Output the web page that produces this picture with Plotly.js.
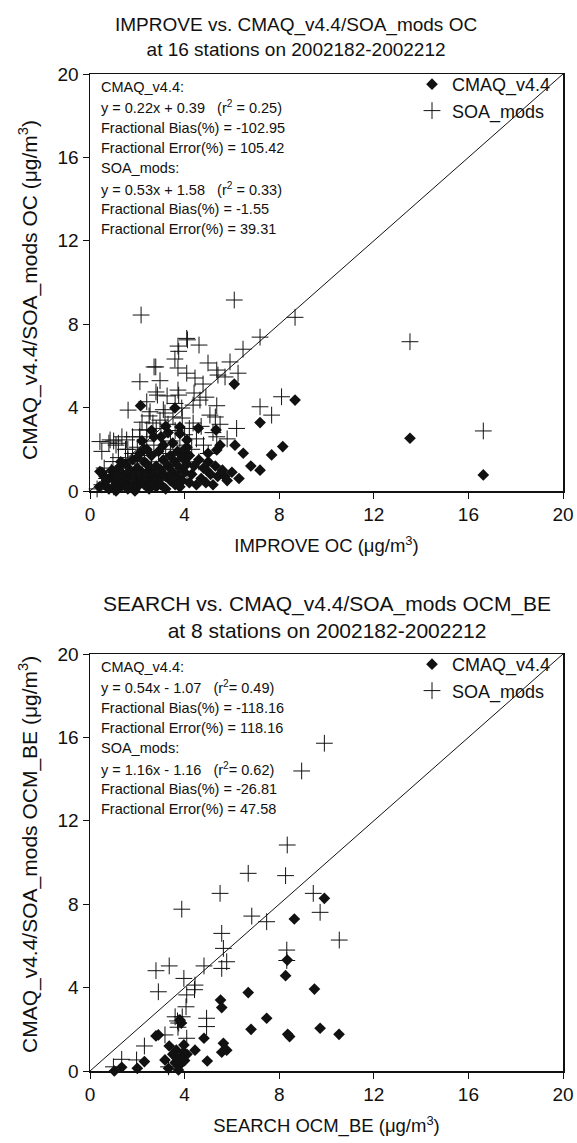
<!DOCTYPE html>
<html>
<head>
<meta charset="utf-8">
<script src="https://cdn.plot.ly/plotly-3.0.1.min.js"></script>
<style>html,body{margin:0;padding:0;background:#fff;}#chart{width:577px;height:1143px;}</style>
</head>
<body>
<div id="chart"></div>
<script>
// ---------- Top panel: IMPROVE OC ----------
var improveCmaqX = [6.10,8.67,7.19,2.14,3.59,8.15,7.68,6.48,6.13,5.50,7.19,5.33,5.36,4.99,4.58,4.93,5.40,5.70,3.80,3.80,4.10,4.10,13.53,16.63,
  0.5,0.6,0.7,0.8,0.9,1.0,1.0,1.1,1.2,1.2,1.3,1.4,1.5,1.5,1.6,1.6,1.7,1.8,1.8,1.9,2.0,2.0,2.1,2.1,2.2,2.2,2.3,2.3,2.4,2.4,2.5,2.5,2.6,2.6,2.7,2.7,
  2.8,2.8,2.9,2.9,3.0,3.0,3.1,3.1,3.2,3.2,3.3,3.3,3.4,3.4,3.5,3.5,3.6,3.6,3.7,3.7,3.8,3.8,3.9,3.9,4.0,4.0,4.1,4.2,4.2,4.3,4.4,4.5,4.6,4.7,4.8,4.9,
  5.0,5.1,5.2,5.3,5.6,5.8,6.0,6.3,6.8,0.4,0.6,1.1,1.3,1.9,2.4,3.0,2.0,2.6,3.2,2.3,0.42,0.92];
var improveCmaqY = [5.13,4.36,3.28,4.09,3.98,2.13,1.73,1.81,2.20,2.20,1.00,2.93,1.97,1.81,3.01,1.00,0.70,0.70,3.07,2.75,2.45,2.10,2.53,0.77,
  0.9,0.3,0.5,0.1,0.7,0.2,0.9,0.4,0.6,1.1,0.2,0.8,0.4,1.3,0.1,0.6,1.0,0.3,1.5,0.7,0.2,1.1,0.5,1.8,0.9,2.4,0.3,1.4,0.6,2.0,1.0,0.1,1.7,0.4,0.8,2.6,
  1.2,0.2,0.6,1.9,1.0,0.3,1.5,2.2,0.7,0.1,1.2,2.8,0.5,1.7,0.9,2.3,0.3,1.4,1.9,0.7,1.1,0.2,1.6,0.5,2.0,0.9,1.3,0.4,1.7,0.8,1.2,0.3,1.5,0.6,1.1,0.4,
  1.4,0.8,0.3,1.2,1.0,0.5,0.9,0.6,1.2,0.2,0.7,0.0,1.4,0.0,1.3,2.6,1.6,2.9,3.1,2.0,0.93,1.00];
var improveSoaX = [6.10,2.16,8.67,4.09,4.12,7.19,3.72,3.75,4.61,6.47,3.59,2.71,2.78,4.99,5.92,5.36,3.72,4.09,2.11,2.96,4.44,4.78,5.41,5.71,6.26,
  2.79,2.85,3.72,3.75,3.26,2.40,1.61,2.54,3.88,4.36,5.36,4.65,5.07,5.30,7.19,7.68,8.10,3.17,4.36,5.36,0.42,0.85,1.20,1.55,2.11,2.10,2.40,2.66,2.96,
  3.51,1.60,1.80,1.60,0.97,0.60,3.38,13.53,16.63,
  0.5,0.7,0.9,1.0,1.2,1.3,1.4,1.5,1.7,1.8,1.9,2.0,2.0,2.2,2.2,2.3,2.4,2.5,2.5,2.6,2.7,2.8,2.8,2.9,3.0,3.0,3.1,3.2,3.3,3.3,3.4,3.5,3.6,3.6,3.7,
  3.8,3.9,4.0,4.0,4.1,4.2,4.3,4.5,4.6,4.7,4.8,5.0,5.2,5.5,5.8,6.2,4.4,4.9,0.3,0.5,1.1,1.35,0.8,1.0];
var improveSoaY = [9.16,8.44,8.33,7.32,7.25,7.38,6.95,6.70,7.00,6.80,6.33,5.95,5.95,6.14,6.19,5.80,5.90,5.65,5.24,5.29,5.42,5.13,5.56,5.47,5.65,
  4.75,4.60,4.84,4.60,4.56,4.28,3.88,3.80,3.98,4.12,4.09,4.36,3.64,3.55,4.04,3.64,4.52,3.74,3.26,2.60,2.37,2.45,2.29,2.45,2.93,2.60,2.93,3.26,3.40,
  3.55,2.00,1.80,1.50,1.41,1.10,1.17,7.16,2.88,
  0.3,0.6,0.9,0.2,1.6,0.5,1.2,2.0,0.8,2.6,1.3,0.4,2.1,1.0,3.3,1.7,2.4,0.7,3.6,1.4,2.2,0.5,3.0,1.8,2.6,1.1,3.9,2.0,0.8,3.2,2.4,1.5,2.9,4.2,1.2,
  2.2,3.5,1.8,2.7,0.9,3.0,2.0,2.5,1.4,3.1,2.2,1.8,2.8,3.2,2.5,3.0,4.7,4.5,0.1,1.9,2.2,2.6,2.3,2.4];

// ---------- Bottom panel: SEARCH OCM_BE ----------
var searchCmaqX = [9.91,8.64,8.34,8.27,9.49,6.69,5.52,5.57,7.47,6.81,9.73,8.36,8.44,10.53,2.79,2.89,3.80,3.86,4.82,3.97,3.35,5.64,5.78,5.57,4.44,
  4.96,3.17,3.50,3.60,3.70,3.80,3.90,4.00,4.10,2.30,2.00,1.34,1.03,3.32,3.74,3.65,3.95];
var searchCmaqY = [8.28,7.29,5.32,4.57,3.93,3.76,3.40,3.04,2.53,2.00,2.05,1.76,1.65,1.76,1.68,1.73,2.45,2.30,1.57,1.25,1.20,1.33,1.00,0.90,1.00,
  0.48,0.53,0.80,0.40,0.60,0.30,0.70,0.50,0.80,0.45,0.13,0.18,0.00,0.13,0.05,1.00,0.90];
var searchSoaX = [9.91,8.95,8.34,6.69,8.27,5.50,9.44,3.88,6.84,7.47,9.73,10.54,5.57,5.64,8.32,5.78,5.57,4.82,2.79,3.35,2.89,3.97,4.44,4.42,4.09,
  4.06,3.60,3.90,3.70,3.75,3.72,4.93,4.93,3.17,4.09,2.30,1.97,1.34,0.99,3.32,8.32];
var searchSoaY = [15.72,14.39,10.84,9.48,9.37,8.52,8.52,7.76,7.43,7.16,7.61,6.28,6.60,5.88,5.80,5.24,4.92,5.04,4.81,5.04,3.80,4.44,4.12,3.90,3.65,
  3.08,2.60,2.60,2.40,2.30,2.10,2.53,2.13,1.73,1.57,1.20,0.53,0.56,0.20,0.20,5.30];

var oneToOne = [0, 20];
var seriesNames = ['CMAQ_v4.4', 'SOA_mods'];

var topTitle = 'IMPROVE vs. CMAQ_v4.4/SOA_mods OC<br>at 16 stations on 2002182-2002212';
var botTitle = 'SEARCH vs. CMAQ_v4.4/SOA_mods OCM_BE<br>at 8 stations on 2002182-2002212';
var topXTitle = 'IMPROVE OC (μg/m<sup>3</sup>)';
var botXTitle = 'SEARCH OCM_BE (μg/m<sup>3</sup>)';
var topYTitle = 'CMAQ_v4.4/SOA_mods OC (μg/m<sup>3</sup>)';
var botYTitle = 'CMAQ_v4.4/SOA_mods OCM_BE (μg/m<sup>3</sup>)';
var topStats = ['CMAQ_v4.4:', 'y = 0.22x + 0.39   (r<sup>2</sup> = 0.25)', 'Fractional Bias(%) = -102.95', 'Fractional Error(%) = 105.42',
                'SOA_mods:', 'y = 0.53x + 1.58   (r<sup>2</sup> = 0.33)', 'Fractional Bias(%) = -1.55', 'Fractional Error(%) = 39.31'];
var botStats = ['CMAQ_v4.4:', 'y = 0.54x - 1.07   (r<sup>2</sup>= 0.49)', 'Fractional Bias(%) = -118.16', 'Fractional Error(%) = 118.16',
                'SOA_mods:', 'y = 1.16x - 1.16   (r<sup>2</sup>= 0.62)', 'Fractional Bias(%) = -26.81', 'Fractional Error(%) = 47.58'];

var FONT = 'Liberation Sans, Arial, Helvetica, sans-serif';
var INK = '#111';
var diamond = {symbol: 'diamond', size: 9, color: INK};
var cross = {symbol: 'cross-thin-open', size: 12, color: INK, line: {color: INK, width: 1}};

var traces = [
  {x: oneToOne, y: oneToOne, mode: 'lines', line: {color: INK, width: 1}, showlegend: false, hoverinfo: 'skip', xaxis: 'x', yaxis: 'y'},
  {x: improveCmaqX, y: improveCmaqY, mode: 'markers', name: seriesNames[0], marker: diamond, xaxis: 'x', yaxis: 'y', legend: 'legend', cliponaxis: false},
  {x: improveSoaX, y: improveSoaY, mode: 'markers', name: seriesNames[1], marker: cross, xaxis: 'x', yaxis: 'y', legend: 'legend', cliponaxis: false},
  {x: oneToOne, y: oneToOne, mode: 'lines', line: {color: INK, width: 1}, showlegend: false, hoverinfo: 'skip', xaxis: 'x2', yaxis: 'y2'},
  {x: searchCmaqX, y: searchCmaqY, mode: 'markers', name: seriesNames[0], marker: diamond, xaxis: 'x2', yaxis: 'y2', legend: 'legend2', cliponaxis: false},
  {x: searchSoaX, y: searchSoaY, mode: 'markers', name: seriesNames[1], marker: cross, xaxis: 'x2', yaxis: 'y2', legend: 'legend2', cliponaxis: false}
];

var W = 577, H = 1143;
var PLOT_H = 417;
var xDom = [90 / W, 563 / W];
var yTop = [1 - 491 / H, 1 - 74 / H];
var yBot = [1 - 1071 / H, 1 - 654 / H];

function axis(extra) {
  var a = {range: [0, 20], tickvals: [0, 4, 8, 12, 16, 20], ticks: 'outside', ticklen: 6, tickwidth: 1, tickcolor: INK,
    showline: true, linecolor: INK, linewidth: 1.5, mirror: true, showgrid: false, zeroline: false, fixedrange: true,
    tickfont: {family: FONT, size: 19, color: INK}};
  for (var k in extra) a[k] = extra[k];
  return a;
}
var xTitleFont = {family: FONT, size: 18.5, color: INK};
var yTitleFont = {family: FONT, size: 21, color: INK};
var legFont = {family: FONT, size: 18, color: INK};
var statFont = {family: FONT, size: 14.5, color: INK};

var annotations = [
  {text: topTitle, xref: 'paper', yref: 'paper', x: 296 / W, y: 1 - 37 / H, xanchor: 'center', yanchor: 'middle', showarrow: false,
    font: {family: FONT, size: 19, color: INK}},
  {text: botTitle, xref: 'paper', yref: 'paper', x: 327 / W, y: 1 - 617 / H, xanchor: 'center', yanchor: 'middle', showarrow: false,
    font: {family: FONT, size: 21, color: INK}},
  {text: topYTitle, xref: 'paper', yref: 'paper', x: 28 / W, y: 1 - 290 / H, xanchor: 'center', yanchor: 'middle', textangle: -90,
    showarrow: false, font: yTitleFont},
  {text: botYTitle, xref: 'paper', yref: 'paper', x: 28 / W, y: 1 - 855 / H, xanchor: 'center', yanchor: 'middle', textangle: -90,
    showarrow: false, font: yTitleFont}
];
function addStats(lines, xr, yr) {
  for (var i = 0; i < lines.length; i++) {
    annotations.push({text: lines[i], xref: xr, yref: yr, x: 0.02, y: 1 - (13 + i * 20.3) / PLOT_H, xanchor: 'left', yanchor: 'middle',
      align: 'left', showarrow: false, font: statFont});
  }
}
addStats(topStats, 'x domain', 'y domain');
addStats(botStats, 'x2 domain', 'y2 domain');

var layout = {
  width: W, height: H, margin: {l: 0, r: 0, t: 0, b: 0}, paper_bgcolor: '#fff', plot_bgcolor: '#fff',
  font: {family: FONT, color: INK},
  xaxis: axis({domain: xDom, anchor: 'y', title: {text: topXTitle, font: xTitleFont, standoff: 15}}),
  yaxis: axis({domain: yTop, anchor: 'x'}),
  xaxis2: axis({domain: xDom, anchor: 'y2', title: {text: botXTitle, font: xTitleFont, standoff: 15}}),
  yaxis2: axis({domain: yBot, anchor: 'x2'}),
  legend: {x: 412 / W, y: yTop[1] + 0.007, xanchor: 'left', yanchor: 'top', bgcolor: 'rgba(0,0,0,0)', font: legFont,
    itemwidth: 30, tracegroupgap: 0},
  legend2: {x: 412 / W, y: yBot[1] + 0.007, xanchor: 'left', yanchor: 'top', bgcolor: 'rgba(0,0,0,0)', font: legFont,
    itemwidth: 30, tracegroupgap: 0},
  annotations: annotations
};

Plotly.newPlot('chart', traces, layout, {displayModeBar: false, staticPlot: true});
</script>
</body>
</html>
